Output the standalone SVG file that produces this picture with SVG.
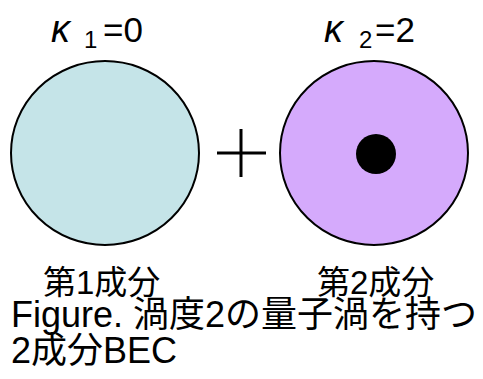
<svg xmlns="http://www.w3.org/2000/svg" width="483" height="379" viewBox="0 0 483 379">
<style>
text{font-family:"Liberation Sans","Noto Sans CJK JP",sans-serif;fill:#000}
.big{font-size:35px}
.kap{font-size:38px;font-style:italic}
.sub{font-size:24px}
.lab{font-size:33px}
.cap{font-size:36px}
.ring{stroke:#000;stroke-width:2}
</style>
<rect width="483" height="379" fill="#fff"/>
<g id="component1">
<ellipse class="ring" cx="105" cy="153" rx="94" ry="92" fill="#c5e4e8"/>
<text class="kap" x="51" y="42">κ</text>
<text class="sub" x="84" y="48">1</text>
<text class="big" x="103" y="42">=0</text>
<text class="lab" x="43" y="294">第1成分</text>
</g>
<g id="plus">
<path d="M217 153H266M241 129V177" stroke="#000" stroke-width="3" fill="none"/>
</g>
<g id="component2">
<ellipse class="ring" cx="374" cy="153" rx="94" ry="92" fill="#d5aafc"/>
<circle cx="376" cy="154" r="20" fill="#000"/>
<text class="kap" x="324" y="42">κ</text>
<text class="sub" x="359" y="48">2</text>
<text class="big" x="375" y="42">=2</text>
<text class="lab" x="317" y="294">第2成分</text>
</g>
<g id="caption">
<text class="cap" x="11" y="327">Figure. 渦度2の量子渦を持つ</text>
<text class="cap" x="11" y="363">2成分BEC</text>
</g>
<g id="connectors"></g>
</svg>
